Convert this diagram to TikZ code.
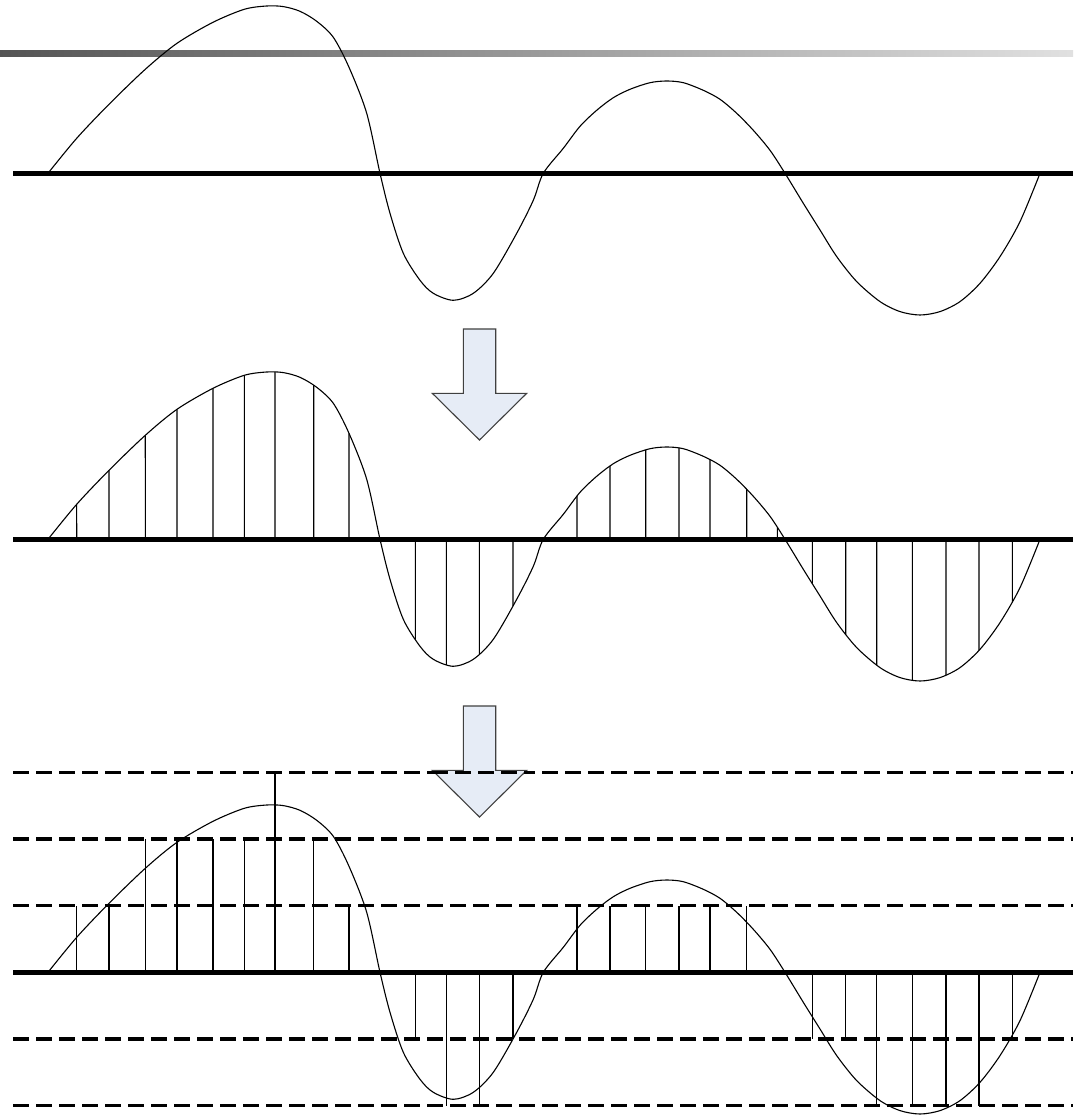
\documentclass[tikz,border=0pt]{standalone}
\usetikzlibrary{intersections}
\definecolor{arrowfill}{RGB}{230,236,246}
\begin{document}
\begin{tikzpicture}[x=0.5pt,y=-0.5pt,
  axisline/.style={line width=2.5pt},
  levelline/.style={line width=1.75pt, dash pattern=on 8pt off 3.5pt},
  wave/.style={line width=0.55pt},
  sampleline/.style={line width=0.55pt},
  bigarrow/.style={fill=arrowfill, draw=black!75, line width=0.55pt, line join=miter}]
\useasboundingbox (0,0) rectangle (1073,1117);
% header bar
\shade[left color=black!67, right color=black!12] (0,51) rectangle (1073,57);
% axes
\foreach \ay in {173.3,539.3,972.3}
  \draw[axisline] (13,\ay) -- (1073,\ay);
% quantisation levels
\foreach \lv in {3,2,1,-1,-2}
  \draw[levelline] (13,{972.3-66.6*\lv}) -- (1073,{972.3-66.6*\lv});
% arrows
\draw[bigarrow] (463.3,329) -- (495.7,329) -- (495.7,393.3) -- (526.7,393.3) -- (479.5,440) -- (432.3,393.3) -- (463.3,393.3) -- cycle;
\draw[bigarrow] (463.3,706) -- (495.7,706) -- (495.7,770.3) -- (526.7,770.3) -- (479.5,817) -- (432.3,770.3) -- (463.3,770.3) -- cycle;
\draw[levelline] (432,{972.3-66.6*3}) -- (528,{972.3-66.6*3});
% waves
\foreach \ay/\nm in {173.3/wA,539.3/wB,972.3/wC}{
  \draw[wave, shift={(0,\ay)}, name path global=\nm] plot[smooth, tension=0.5] coordinates {
  (48,0) (76.7,-35) (109,-69) (145.3,-104) (177,-130) (213,-151) (244.3,-164) (266.7,-167.3) (283.3,-166.7) (300,-162) (316.7,-152) (333.3,-136) (349,-106) (366.7,-60) (380,0) (390,40) (403.3,80) (420,107) (433.3,120) (453.3,127) (473.3,120) (493.3,100) (516.7,60) (533.3,27) (543.3,0) (563.3,-25) (580,-47) (596.7,-63) (613.3,-75.6) (630,-84) (650,-90.6) (666.7,-92.3) (683.3,-90.6) (703.3,-83) (720,-74) (736.7,-60) (753.3,-43) (770,-23) (785,0) (803.3,30) (820,56.7) (836.7,83.3) (856.7,108.3) (880,128.3) (900,138.3) (920,141.7) (940,138.3) (960,128.3) (980,110) (1000,83.3) (1020,48.3) (1040,0)};
}
% samples (middle panel)
\foreach \sx in {76.7,109,145.3,177,213,244.3,275,313.7,349,415.3,446.3,479.3,513,577,610,645.7,679,710,746.7,777.3,812.3,845.7,876.7,912.3,946,979,1012.3}{
  \path[name path=vl] (\sx,330) -- (\sx,750);
  \draw[sampleline, name intersections={of=wB and vl, by=sp}] (\sx,539.3) -- (sp);
}
% quantised samples (bottom panel)
\foreach \sx/\lv in {76.7/1,109/1,145.3/2,177/2,213/2,244.3/2,275/3,313.7/2,349/1,415.3/-1,446.3/-2,479.3/-2,513/-1,577/1,610/1,645.7/1,679/1,710/1,746.7/1,812.3/-1,845.7/-1,876.7/-2,912.3/-2,946/-2,979/-2,1012.3/-1}
  \draw[sampleline] (\sx,972.3) -- (\sx,{972.3-66.6*\lv});
\end{tikzpicture}
\end{document}
